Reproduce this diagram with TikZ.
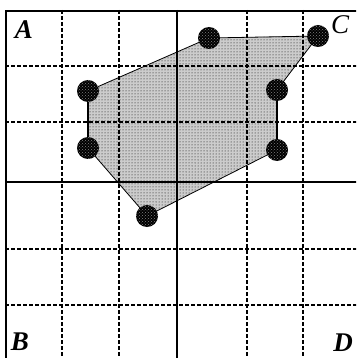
\documentclass[tikz,border=0pt]{standalone}
\usepackage{fontspec}
\setmainfont{Liberation Serif}
\usetikzlibrary{patterns}
\begin{document}
\begin{tikzpicture}[x=1pt,y=-1pt,
  gridline/.style={line width=1.5pt,dash pattern=on 4pt off 2pt},
  axisline/.style={line width=1.5pt},
  edge/.style={line width=0.8pt},
  vside/.style={line width=1.5pt},
  vtx/.style={circle,inner sep=0pt,minimum size=22pt,fill=black,
    postaction={pattern=crosshatch dots,pattern color=gray}},
  lbl/.style={font=\fontsize{27}{27}\selectfont\itshape\bfseries,inner sep=0pt},
  lblc/.style={font=\fontsize{27}{27}\selectfont\itshape,inner sep=0pt}]
\useasboundingbox (0,0) rectangle (356,358);
\clip (0,0) rectangle (356,358);
\fill[white] (0,0) rectangle (356,358);
% polygon corners
\coordinate (p1) at (209,38);
\coordinate (p2) at (318,36);
\coordinate (p3) at (277,90);
\coordinate (p4) at (277,150);
\coordinate (p5) at (147,216);
\coordinate (p6) at (88,148);
\coordinate (p7) at (88,91);
% fill
\fill[black!20] (p1) -- (p2) -- (p3) -- (p4) -- (p5) -- (p6) -- (p7) -- cycle;
\fill[pattern=dots,pattern color=black] (p1) -- (p2) -- (p3) -- (p4) -- (p5) -- (p6) -- (p7) -- cycle;
% grid
\foreach \gx in {62,119,247,303} \draw[gridline] (\gx,10) -- (\gx,370);
\foreach \gy in {66,122,249,305} \draw[gridline] (5,\gy) -- (370,\gy);
\draw[axisline] (177,10) -- (177,370);
\draw[axisline] (5,182) -- (370,182);
% frame
\draw[line width=2pt] (6,370) -- (6,11) -- (370,11);
% polygon edges
\draw[edge] (p1) -- (p2);
\draw[edge] (p2) -- (p3);
\draw[vside] (p3) -- (p4);
\draw[edge] (p4) -- (p5);
\draw[edge] (p5) -- (p6);
\draw[vside] (p6) -- (p7);
\draw[edge] (p7) -- (p1);
% vertices
\node[vtx] (v1) at (p1) {};
\node[vtx] (v2) at (p2) {};
\node[vtx] (v3) at (p3) {};
\node[vtx] (v4) at (p4) {};
\node[vtx] (v5) at (p5) {};
\node[vtx] (v6) at (p6) {};
\node[vtx] (v7) at (p7) {};
% labels
\node[lbl] (A) at (24,30) {A};
\node[lbl] (B) at (20,342) {B};
\node[lblc] (C) at (340,25) {C};
\node[lbl] (D) at (343,343) {D};
\end{tikzpicture}
\end{document}
